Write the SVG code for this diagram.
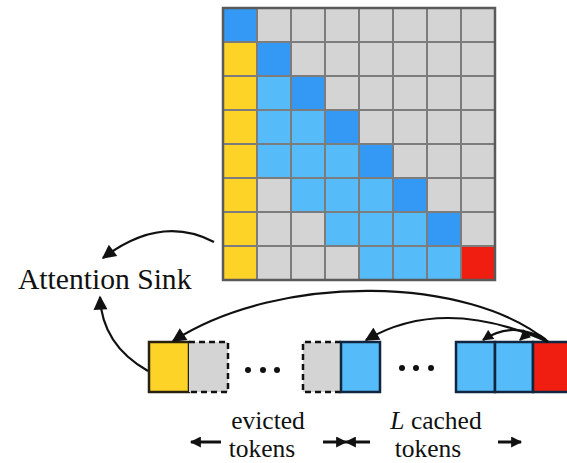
<svg xmlns="http://www.w3.org/2000/svg" width="567" height="463" viewBox="0 0 567 463">
  <defs>
    <style>
      .gy { fill: #d4d4d4; }
      .db { fill: #3399f4; }
      .lb { fill: #56bcf9; }
      .ye { fill: #fdd327; }
      .rd { fill: #f01e10; }
      .gridline { stroke: #7c7c7c; stroke-width: 2; fill: none; }
      .frame { stroke: #5a5a5a; stroke-width: 2.5; fill: none; }
      .tok { stroke: #10253f; stroke-width: 2.5; }
      .tok-y { stroke: #2a2010; stroke-width: 2.5; }
      .dash { fill: none; stroke: #111; stroke-width: 2.5; stroke-dasharray: 6 4; }
      .conn { fill: none; stroke: #111; stroke-width: 2.2; }
      .span { fill: none; stroke: #111; stroke-width: 3; }
      .lab { font-family: "Liberation Serif", "Times New Roman", serif; fill: #111; }
      .cap { font-size: 25.5px; }
      .dot { fill: #111; }
    </style>
    <marker id="head" viewBox="0 0 10 10" refX="9" refY="5" markerUnits="userSpaceOnUse" markerWidth="16" markerHeight="14" orient="auto">
      <path d="M0,0 L10,5 L0,10 Z" fill="#111"/>
    </marker>
    <marker id="headS" viewBox="0 0 10 10" refX="9" refY="5" markerUnits="userSpaceOnUse" markerWidth="12" markerHeight="11" orient="auto">
      <path d="M0,0 L10,5 L0,10 Z" fill="#111"/>
    </marker>
  </defs>

  <rect width="567" height="463" fill="#ffffff"/>

  <!-- attention matrix, 8x8 cells of 34px -->
  <g id="matrix">
    <g transform="translate(223,8)">
      <!-- row 0 -->
      <rect class="db" x="0" y="0" width="34" height="34"/>
      <rect class="gy" x="34" y="0" width="238" height="34"/>
      <!-- row 1 -->
      <rect class="ye" x="0" y="34" width="34" height="34"/>
      <rect class="db" x="34" y="34" width="34" height="34"/>
      <rect class="gy" x="68" y="34" width="204" height="34"/>
      <!-- row 2 -->
      <rect class="ye" x="0" y="68" width="34" height="34"/>
      <rect class="lb" x="34" y="68" width="34" height="34"/>
      <rect class="db" x="68" y="68" width="34" height="34"/>
      <rect class="gy" x="102" y="68" width="170" height="34"/>
      <!-- row 3 -->
      <rect class="ye" x="0" y="102" width="34" height="34"/>
      <rect class="lb" x="34" y="102" width="68" height="34"/>
      <rect class="db" x="102" y="102" width="34" height="34"/>
      <rect class="gy" x="136" y="102" width="136" height="34"/>
      <!-- row 4 -->
      <rect class="ye" x="0" y="136" width="34" height="34"/>
      <rect class="lb" x="34" y="136" width="102" height="34"/>
      <rect class="db" x="136" y="136" width="34" height="34"/>
      <rect class="gy" x="170" y="136" width="102" height="34"/>
      <!-- row 5 -->
      <rect class="ye" x="0" y="170" width="34" height="34"/>
      <rect class="gy" x="34" y="170" width="34" height="34"/>
      <rect class="lb" x="68" y="170" width="102" height="34"/>
      <rect class="db" x="170" y="170" width="34" height="34"/>
      <rect class="gy" x="204" y="170" width="68" height="34"/>
      <!-- row 6 -->
      <rect class="ye" x="0" y="204" width="34" height="34"/>
      <rect class="gy" x="34" y="204" width="68" height="34"/>
      <rect class="lb" x="102" y="204" width="102" height="34"/>
      <rect class="db" x="204" y="204" width="34" height="34"/>
      <rect class="gy" x="238" y="204" width="34" height="34"/>
      <!-- row 7 -->
      <rect class="ye" x="0" y="238" width="34" height="34"/>
      <rect class="gy" x="34" y="238" width="102" height="34"/>
      <rect class="lb" x="136" y="238" width="102" height="34"/>
      <rect class="rd" x="238" y="238" width="34" height="34"/>
      <!-- cell separators -->
      <path class="gridline" d="M34,0V272M68,0V272M102,0V272M136,0V272M170,0V272M204,0V272M238,0V272M0,34H272M0,68H272M0,102H272M0,136H272M0,170H272M0,204H272M0,238H272"/>
      <rect class="frame" x="0" y="0" width="272" height="272"/>
    </g>
  </g>

  <!-- label -->
  <g id="sink-label">
    <text class="lab" x="18" y="289" font-size="29.6">Attention Sink</text>
  </g>

  <!-- token sequence -->
  <g id="sink-token">
    <rect class="ye tok-y" x="149" y="342" width="40" height="50"/>
  </g>
  <g id="evicted-1">
    <rect class="gy" x="189" y="342" width="39" height="50"/>
    <path class="dash" d="M189,342H228V392H189"/>
  </g>
  <g id="dots-1">
    <circle class="dot" cx="248" cy="370" r="3"/>
    <circle class="dot" cx="263" cy="370" r="3"/>
    <circle class="dot" cx="277" cy="370" r="3"/>
  </g>
  <g id="evicted-2">
    <rect class="gy" x="303" y="342" width="38" height="50"/>
    <path class="dash" d="M341,342H303V392H341"/>
  </g>
  <g id="cached-1">
    <rect class="lb tok" x="341" y="342" width="39" height="50"/>
  </g>
  <g id="dots-2">
    <circle class="dot" cx="402" cy="368" r="3"/>
    <circle class="dot" cx="416" cy="368" r="3"/>
    <circle class="dot" cx="431" cy="368" r="3"/>
  </g>
  <g id="cached-2">
    <rect class="lb tok" x="456" y="342" width="39" height="50"/>
  </g>
  <g id="cached-3">
    <rect class="lb tok" x="495" y="342" width="38" height="50"/>
  </g>
  <g id="current-token">
    <rect class="rd tok" x="533" y="342" width="40" height="50"/>
  </g>

  <!-- captions -->
  <g id="evicted-caption">
    <text class="lab cap" x="268" y="428.5" text-anchor="middle">evicted</text>
    <text class="lab cap" x="262" y="457" text-anchor="middle">tokens</text>
  </g>
  <g id="cached-caption">
    <text class="lab cap" x="436" y="428.5" text-anchor="middle"><tspan font-style="italic">L</tspan> cached</text>
    <text class="lab cap" x="428" y="457" text-anchor="middle">tokens</text>
  </g>

  <!-- connectors -->
  <g id="connectors">
    <path class="conn" d="M214,242 Q161,214 103,258" marker-end="url(#head)"/>
    <path class="conn" d="M148,371 Q102,345 100,297" marker-end="url(#head)"/>
    <path class="conn" d="M548,342 C470,276 280,272 173,341" marker-end="url(#head)"/>
    <path class="conn" d="M548,342 Q443,295 366,340" marker-end="url(#head)"/>
    <path class="conn" d="M548,342 Q514,319 483,340" marker-end="url(#headS)"/>
    <path class="conn" d="M548,342 Q534,327 520,340" marker-end="url(#headS)"/>
    <!-- span arrows under the sequence -->
    <path class="span" d="M221,442H191" marker-end="url(#headS)"/>
    <path class="span" d="M323,442H346" marker-end="url(#headS)"/>
    <path class="span" d="M370,442H346" marker-end="url(#headS)"/>
    <path class="span" d="M498,442H521" marker-end="url(#headS)"/>
  </g>
</svg>
